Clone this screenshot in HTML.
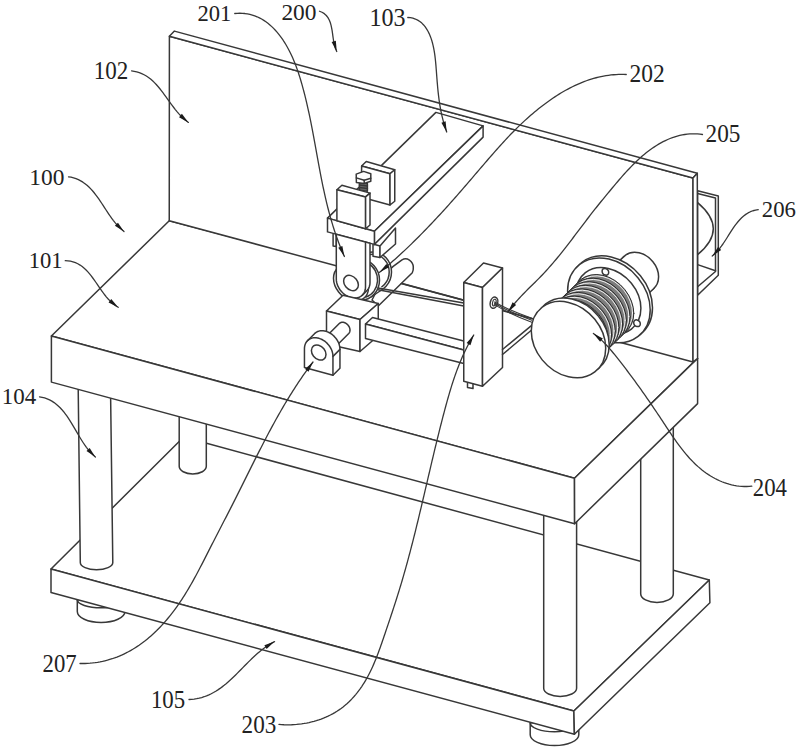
<!DOCTYPE html>
<html><head><meta charset="utf-8"><style>
html,body{margin:0;padding:0;background:#fff;width:800px;height:751px;overflow:hidden}
svg{display:block}
text{font-family:"Liberation Serif",serif;font-size:23.3px;fill:#222}
</style></head><body>
<svg width="800" height="751" viewBox="0 0 800 751">
<g stroke="#383838" stroke-width="1.5" stroke-linejoin="round" stroke-linecap="round">
<path d="M77.3,599.8 L77.3,611.5 A23.8,11 0 0 0 124.9,611.5 L124.9,599.8 Z" fill="#fff"/><path d="M77.3,599.8 A23.8,8 0 0 0 124.9,599.8" fill="none"/>
<path d="M530.2,722.8 L530.2,734.7 A24.3,10.8 0 0 0 578.8,734.7 L578.8,722.8 Z" fill="#fff"/><path d="M530.2,722.8 A24.3,9 0 0 0 578.8,722.8" fill="none"/>
<polygon points="51,569 183.7,437 709.3,580 573.9,711" fill="#fff" />
<polygon points="51,569 573.9,711 574.4,734.2 51,592.5" fill="#fff" />
<polygon points="573.9,711 709.3,580 709.9,602.75 574.4,734.2" fill="#fff" />
<path d="M179.2,405 L179.2,466.3 A13.55,7.7 0 0 0 206.3,466.3 L206.3,405 Z" fill="#fff"/>
<path d="M640.7,420 L640.7,593.75 A16.3,8.75 0 0 0 673.3,593.75 L673.3,420 Z" fill="#fff"/>
<path d="M78.1,380 L80.3,562.5 A16.25,7.3 0 0 0 112.8,562.5 L110.4,380 Z" fill="#fff"/>
<path d="M543.7,510 L543.7,688.3 A16.45,8.1 0 0 0 576.6,688.3 L576.6,510 Z" fill="#fff"/>
<polygon points="51.4,336 169.25,220.75 697.6,358.4 574.5,478.2" fill="#fff" />
<polygon points="51.4,336 574.5,478.2 574.6,523.7 51.4,382.1" fill="#fff" />
<polygon points="574.5,478.2 697.6,358.4 697.6,403.6 574.6,523.7" fill="#fff" />
<polygon points="697.6,190.8 718.3,196 718.3,275.3 697.6,295.3" fill="#fff" />
<polyline points="697.6,193.4 715.5,198 715.5,271.5 697.6,286.8" fill="none"/>
<line x1="697.6" y1="264.6" x2="715.5" y2="270.8"/>
<path d="M697.6,202.6 Q729,229 697.6,254.7" fill="none"/>
<polygon points="169.4,36.25 693,178 693,362 169.25,220.75" fill="#fff" />
<polygon points="169.4,36.25 174.4,31.1 697.3,173.3 693,178" fill="#fff" />
<polygon points="693,178 697.3,173.3 697.6,358.4 693,362" fill="#fff" />
<path d="M386,273 L393.2,266.4 L402,259.8 C407,257 413,261 413.3,267 C413.5,270 413,271.5 412.3,272.7 L378.25,306 L372,300 Z" fill="#fff"/>
<ellipse cx="373" cy="272" rx="18.5" ry="20" fill="#fff"/>
<ellipse cx="373" cy="272" rx="16.2" ry="17.7" fill="none"/>
<polygon points="351.36,262.75 363.36,254.75 382.64,289.25 370.64,297.25" fill="#fff" stroke="none"/>
<line x1="370.64" y1="297.25" x2="382.64" y2="289.25"/>
<ellipse cx="361" cy="280" rx="18.5" ry="20.3" fill="#fff"/>
<path d="M368,263.5 A15.8,17.8 0 0 1 366,297" fill="none"/>
<polygon points="373,244 380,246 380,257.5 373,256.3" fill="#fff" />
<polygon points="380,246 395.5,228 395.5,244 380,257.5" fill="#fff" />
<polygon points="333.1,231 336.3,231 336.3,246.5 333.1,246" fill="#fff" />
<polygon points="435.9,112.4 483.1,125.9 374.4,231.25 327.5,218.1" fill="#fff" />
<polygon points="483.1,125.9 483.1,137.1 374.4,244.4 374.4,231.25" fill="#fff" />
<polygon points="327.5,218.1 374.4,231.25 374.4,244.4 327.5,231.9" fill="#fff" />
<polygon points="361.6,166 366.25,161.5 394.75,169.75 390,173.75" fill="#fff" />
<polygon points="361.6,166 390,173.75 390,205 361.6,197.2" fill="#fff" />
<polygon points="390,173.75 394.75,169.75 394.75,201.25 390,205" fill="#fff" />
<polygon points="359.4,182.5 367.4,183.5 367.4,191.2 359.4,190.2" fill="#6a6a6a" />
<line x1="359.4" y1="185" x2="367.4" y2="186"/>
<line x1="359.4" y1="187.6" x2="367.4" y2="188.6"/>
<polygon points="356.2,174.1 363.6,171.4 370.8,173.7 370.8,181.3 364.2,183.4 356.4,182.4" fill="#fff" />
<polyline points="356.3,177.9 364.2,180.2 370.8,178.3" fill="none"/>
<line x1="364.2" y1="180.2" x2="364.2" y2="183.4"/>
<polygon points="336.9,189.75 341.9,185.25 370,193.1 365.6,196.9" fill="#fff" />
<polygon points="336.9,189.75 365.6,196.9 365.6,228.8 336.9,220.7" fill="#fff" />
<polygon points="365.6,196.9 370,193.1 370,225 365.6,228.8" fill="#fff" />
<circle cx="0" cy="0" r="17.5" transform="matrix(1,0.27,0,1,351,283)" fill="#fff" vector-effect="non-scaling-stroke" />
<path d="M336.3,234.3 L365.5,242 L370,243.2 L370,282.44 L370,282.44 L369.91,284.04 L369.64,285.56 L369.2,287 L368.58,288.34 L367.8,289.55 L366.87,290.63 L362.37,295.13 L361.17,296.15 L359.81,296.97 L358.32,297.58 L356.71,297.96 L355.01,298.12 L353.25,298.04 L351.45,297.74 L349.65,297.21 L347.86,296.46 L346.12,295.51 L344.46,294.36 L342.89,293.04 L341.44,291.57 L340.14,289.97 L339.01,288.26 L338.05,286.47 L337.29,284.62 L336.74,282.75 L336.41,280.89 L336.3,279.06 Z" fill="#fff" />
<path d="M365.5,242 L365.5,286.94 L365.41,288.54 L365.14,290.06 L364.7,291.5 L364.08,292.84 L363.3,294.05 L362.37,295.13" fill="none" />
<circle cx="0" cy="0" r="7.4" transform="matrix(1,0.27,0,1,351,283)" fill="#fff" vector-effect="non-scaling-stroke" />
<line x1="401.2" y1="283.5" x2="463.75" y2="300.2"/>
<line x1="378" y1="288" x2="463.75" y2="303"/>
<line x1="378" y1="289.8" x2="463.75" y2="306"/>
<polygon points="326.5,311 343,295.25 378.25,303.5 360,319.5" fill="#fff" />
<polygon points="326.5,311 360,319.5 360,351.5 326.5,344" fill="#fff" />
<polygon points="360,319.5 378.25,303.5 378.25,335.75 360,351.5" fill="#fff" />
<polygon points="365.5,324 372.5,317.5 463.75,341 463.75,350" fill="#fff" />
<polygon points="365.5,324 463.75,350 463.75,363.5 365.5,338.5" fill="#fff" />
<path d="M327.28,335.52 L339.28,323.52 L339.81,323.07 L340.41,322.73 L341.06,322.47 L341.77,322.33 L342.52,322.29 L343.29,322.35 L344.07,322.52 L344.86,322.79 L345.62,323.16 L346.36,323.62 L347.06,324.17 L347.71,324.79 L348.29,325.47 L348.8,326.2 L349.23,326.98 L349.57,327.78 L349.81,328.59 L349.96,329.4 L350,330.19 L349.94,330.96 L349.78,331.68 L349.51,332.35 L349.16,332.96 L348.72,333.48 L336.72,345.48 Z" fill="#fff" />
<path d="M304.45,367.5 L304.45,348.65 L304.45,348.65 L304.54,347.1 L304.8,345.61 L305.23,344.2 L305.83,342.9 L306.59,341.72 L307.5,340.66 L314.5,333.66 L315.47,332.82 L316.54,332.11 L317.72,331.54 L318.97,331.12 L320.3,330.85 L321.69,330.74 L323.12,330.79 L324.57,330.99 L326.04,331.35 L327.51,331.85 L328.95,332.5 L330.36,333.29 L331.72,334.21 L333.02,335.25 L334.24,336.4 L335.37,337.64 L336.4,338.97 L337.31,340.37 L338.1,341.82 L338.75,343.31 L339.27,344.83 L339.65,346.35 L339.87,347.86 L339.95,349.35 L339.95,349.35 L339.95,368.2 L332.95,375.2 Z" fill="#fff" />
<path d="M307.5,340.66 L308.47,339.82 L309.54,339.11 L310.72,338.54 L311.97,338.12 L313.3,337.85 L314.69,337.74 L316.12,337.79 L317.57,337.99 L319.04,338.35 L320.51,338.85 L321.95,339.5 L323.36,340.29 L324.72,341.21 L326.02,342.25 L327.24,343.4 L328.37,344.64 L329.4,345.97 L330.31,347.37 L331.1,348.82 L331.75,350.31 L332.27,351.83 L332.65,353.35 L332.87,354.86 L332.95,356.35 L332.95,375.2" fill="none" />
<line x1="332.95" y1="356.35" x2="339.95" y2="349.35"/>
<circle cx="0" cy="0" r="7.3" transform="matrix(1,0.27,0,1,318.7,352.5)" fill="#fff" vector-effect="non-scaling-stroke" />
<polygon points="463.75,282.5 483.5,263 502.5,268 482.5,287.5" fill="#fff" />
<polygon points="463.75,282.5 482.5,287.5 482.5,386.25 463.75,381.25" fill="#fff" />
<polygon points="482.5,287.5 502.5,268 502.5,367.5 482.5,386.25" fill="#fff" />
<ellipse cx="494" cy="302.7" rx="3.7" ry="5.7" transform="rotate(15 494 302.7)" fill="#fff"/>
<ellipse cx="494.3" cy="302.6" rx="1.7" ry="3.4" transform="rotate(15 494.3 302.6)" fill="none" stroke-width="1.1"/>
<polyline points="467.5,383 467.5,387.5 473,388.5 473,384" fill="none"/>
<path d="M494.5,302 Q508,310 531.8,318.2" fill="none" stroke-width="1.1"/>
<path d="M494.5,303.3 Q508.5,311.8 531.8,320.2" fill="none" stroke-width="1.1"/>
<path d="M494.5,304.6 Q509,313.6 531.8,322.2" fill="none" stroke-width="1.1"/>
<line x1="502.5" y1="349.5" x2="532" y2="325.2"/>
<line x1="502.5" y1="354.5" x2="532.5" y2="329.2"/>
<circle cx="0" cy="0" r="19.5" transform="matrix(1,0.23,0,1,639.1,272.3)" fill="#fff" vector-effect="non-scaling-stroke" />
<polygon points="596.19,282.31 624.09,256.41 654.12,288.19 626.22,314.09" fill="#fff" stroke="none"/>
<line x1="596.19" y1="282.31" x2="624.09" y2="256.41"/>
<line x1="626.22" y1="314.09" x2="654.12" y2="288.19"/>
<circle cx="0" cy="0" r="41.3" transform="matrix(1,0.23,0,1,611.2,298.2)" fill="#fff" vector-effect="non-scaling-stroke" />
<polygon points="577.1,266.74 579.4,264.54 643,331.86 640.7,334.06" fill="#fff" stroke="none"/>
<circle cx="0" cy="0" r="41.3" transform="matrix(1,0.23,0,1,608.9,300.4)" fill="#fff" vector-effect="non-scaling-stroke" />
<circle cx="0" cy="0" r="32.5" transform="matrix(1,0.23,0,1,608.4,300.9)" fill="none" vector-effect="non-scaling-stroke" />
<circle cx="0" cy="0" r="3.3" transform="matrix(1,0.23,0,1,605.4,271.8)" fill="#fff" vector-effect="non-scaling-stroke" />
<circle cx="0" cy="0" r="3.3" transform="matrix(1,0.23,0,1,637,323.2)" fill="#fff" vector-effect="non-scaling-stroke" />
<circle cx="0" cy="0" r="30.9" transform="matrix(1,0.23,0,1,602.92,306.23)" fill="#7c7c7c" vector-effect="non-scaling-stroke" stroke-width="1.0" stroke="#2a2a2a"/>
<circle cx="0" cy="0" r="29.6" transform="matrix(1,0.23,0,1,602.92,306.23)" fill="none" vector-effect="non-scaling-stroke" stroke-width="0.9" stroke="#fff"/>
<circle cx="0" cy="0" r="30.9" transform="matrix(1,0.23,0,1,599.22,309.82)" fill="#7c7c7c" vector-effect="non-scaling-stroke" stroke-width="1.0" stroke="#2a2a2a"/>
<circle cx="0" cy="0" r="29.6" transform="matrix(1,0.23,0,1,599.22,309.82)" fill="none" vector-effect="non-scaling-stroke" stroke-width="0.9" stroke="#fff"/>
<circle cx="0" cy="0" r="30.9" transform="matrix(1,0.23,0,1,595.52,313.4)" fill="#7c7c7c" vector-effect="non-scaling-stroke" stroke-width="1.0" stroke="#2a2a2a"/>
<circle cx="0" cy="0" r="29.6" transform="matrix(1,0.23,0,1,595.52,313.4)" fill="none" vector-effect="non-scaling-stroke" stroke-width="0.9" stroke="#fff"/>
<circle cx="0" cy="0" r="30.9" transform="matrix(1,0.23,0,1,591.83,316.98)" fill="#7c7c7c" vector-effect="non-scaling-stroke" stroke-width="1.0" stroke="#2a2a2a"/>
<circle cx="0" cy="0" r="29.6" transform="matrix(1,0.23,0,1,591.83,316.98)" fill="none" vector-effect="non-scaling-stroke" stroke-width="0.9" stroke="#fff"/>
<circle cx="0" cy="0" r="30.9" transform="matrix(1,0.23,0,1,588.13,320.57)" fill="#7c7c7c" vector-effect="non-scaling-stroke" stroke-width="1.0" stroke="#2a2a2a"/>
<circle cx="0" cy="0" r="29.6" transform="matrix(1,0.23,0,1,588.13,320.57)" fill="none" vector-effect="non-scaling-stroke" stroke-width="0.9" stroke="#fff"/>
<circle cx="0" cy="0" r="30.9" transform="matrix(1,0.23,0,1,584.43,324.15)" fill="#7c7c7c" vector-effect="non-scaling-stroke" stroke-width="1.0" stroke="#2a2a2a"/>
<circle cx="0" cy="0" r="29.6" transform="matrix(1,0.23,0,1,584.43,324.15)" fill="none" vector-effect="non-scaling-stroke" stroke-width="0.9" stroke="#fff"/>
<circle cx="0" cy="0" r="30.9" transform="matrix(1,0.23,0,1,580.74,327.74)" fill="#7c7c7c" vector-effect="non-scaling-stroke" stroke-width="1.0" stroke="#2a2a2a"/>
<circle cx="0" cy="0" r="29.6" transform="matrix(1,0.23,0,1,580.74,327.74)" fill="none" vector-effect="non-scaling-stroke" stroke-width="0.9" stroke="#fff"/>
<circle cx="0" cy="0" r="30.9" transform="matrix(1,0.23,0,1,577.04,331.32)" fill="#7c7c7c" vector-effect="non-scaling-stroke" stroke-width="1.0" stroke="#2a2a2a"/>
<circle cx="0" cy="0" r="29.6" transform="matrix(1,0.23,0,1,577.04,331.32)" fill="none" vector-effect="non-scaling-stroke" stroke-width="0.9" stroke="#fff"/>
<circle cx="0" cy="0" r="37.2" transform="matrix(1,0.23,0,1,572,336.2)" fill="#fff" vector-effect="non-scaling-stroke" />
<polygon points="539.86,309.28 543.36,305.88 600.64,366.52 597.14,369.92" fill="#fff" stroke="none"/>
<circle cx="0" cy="0" r="37.2" transform="matrix(1,0.23,0,1,568.5,339.6)" fill="#fff" vector-effect="non-scaling-stroke" />
<path d="M234.75,13.50 L237.28,13.30 L239.81,13.24 L242.35,13.31 L244.88,13.52 L247.39,13.88 L249.88,14.39 L252.33,15.04 L254.74,15.84 L257.09,16.78 L259.40,17.85 L261.63,19.04 L263.80,20.36 L265.90,21.78 L267.93,23.30 L269.89,24.92 L271.78,26.61 L273.59,28.39 L275.34,30.23 L277.02,32.13 L278.64,34.08 L280.19,36.09 L281.69,38.14 L283.13,40.23 L284.51,42.36 L285.84,44.52 L287.11,46.71 L288.33,48.94 L289.51,51.18 L290.64,53.46 L291.72,55.75 L292.76,58.07 L293.76,60.40 L294.72,62.75 L295.64,65.11 L296.53,67.49 L297.38,69.88 L298.21,72.28 L299.01,74.69 L299.78,77.11 L300.52,79.53 L301.24,81.96 L301.94,84.40 L302.62,86.85 L303.29,89.30 L303.93,91.75 L304.57,94.21 L305.18,96.67 L305.79,99.13 L306.38,101.60 L306.96,104.07 L307.52,106.55 L308.08,109.02 L308.62,111.50 L309.15,113.98 L309.68,116.46 L310.19,118.95 L310.70,121.44 L311.19,123.92 L311.68,126.41 L312.17,128.91 L312.64,131.40 L313.11,133.89 L313.58,136.39 L314.04,138.88 L314.50,141.38 L314.96,143.87 L315.41,146.37 L315.87,148.87 L316.32,151.36 L316.77,153.86 L317.22,156.36 L317.68,158.85 L318.13,161.35 L318.59,163.84 L319.05,166.34 L319.52,168.83 L319.99,171.33 L320.46,173.82 L320.94,176.31 L321.43,178.80 L321.93,181.29 L322.43,183.78 L322.94,186.26 L323.47,188.75 L324.00,191.23 L324.54,193.71 L325.09,196.18 L325.66,198.66 L326.24,201.13 L326.83,203.59 L327.44,206.06 L328.06,208.52 L328.70,210.97 L329.35,213.43 L330.02,215.87 L330.70,218.32 L331.41,220.76 L332.13,223.19 L332.87,225.62 L333.63,228.04 L334.41,230.45 L335.21,232.86 L336.03,235.26 L336.87,237.66 L337.73,240.04 L338.61,242.42 L339.52,244.79 L340.45,247.15 L341.40,249.50 L342.38,251.85 L343.38,254.18 L344.40,256.50" fill="none" stroke-width="1.3"/>
<polygon points="344.4,256.5 338.29,247.68 342.34,245.97" fill="#1a1a1a" stroke="none"/>
<path d="M319.50,11.25 L322.01,12.26 L324.32,13.67 L326.32,15.49 L327.97,17.64 L329.26,20.01 L330.26,22.53 L331.02,25.13 L331.61,27.77 L332.09,30.44 L332.49,33.12 L332.85,35.80 L333.23,38.49 L333.65,41.16 L334.16,43.82 L334.80,46.45 L335.64,49.03 L336.75,51.50" fill="none" stroke-width="1.3"/>
<polygon points="336.75,51.5 331.63,42.08 335.84,40.81" fill="#1a1a1a" stroke="none"/>
<path d="M407.80,17.50 L410.36,17.72 L412.89,18.21 L415.33,19.01 L417.66,20.10 L419.84,21.48 L421.83,23.11 L423.63,24.94 L425.25,26.94 L426.70,29.07 L427.99,31.29 L429.15,33.59 L430.17,35.96 L431.08,38.37 L431.87,40.81 L432.57,43.29 L433.18,45.79 L433.71,48.31 L434.17,50.84 L434.58,53.38 L434.93,55.93 L435.24,58.49 L435.51,61.05 L435.76,63.61 L435.98,66.18 L436.18,68.74 L436.38,71.31 L436.57,73.88 L436.77,76.44 L436.97,79.01 L437.17,81.58 L437.39,84.14 L437.61,86.70 L437.85,89.27 L438.11,91.83 L438.39,94.39 L438.70,96.94 L439.03,99.50 L439.38,102.05 L439.77,104.59 L440.20,107.13 L440.65,109.66 L441.15,112.19 L441.69,114.70 L442.27,117.21 L442.90,119.71 L443.56,122.20 L444.28,124.67 L445.04,127.13 L445.85,129.57 L446.70,132.00" fill="none" stroke-width="1.3"/>
<polygon points="446.7,132 441.41,122.67 445.6,121.33" fill="#1a1a1a" stroke="none"/>
<path d="M131.60,70.90 L134.20,71.27 L136.76,71.83 L139.27,72.60 L141.71,73.56 L144.07,74.71 L146.34,76.03 L148.51,77.50 L150.58,79.11 L152.56,80.83 L154.45,82.65 L156.27,84.54 L158.01,86.50 L159.69,88.52 L161.32,90.57 L162.91,92.66 L164.47,94.77 L166.01,96.90 L167.54,99.03 L169.07,101.16 L170.60,103.29 L172.15,105.41 L173.73,107.51 L175.34,109.58 L177.00,111.61 L178.71,113.60 L180.49,115.53 L182.34,117.39 L184.27,119.17 L186.29,120.84 L188.40,122.40" fill="none" stroke-width="1.3"/>
<polygon points="188.4,122.4 179.03,117.18 181.91,113.86" fill="#1a1a1a" stroke="none"/>
<path d="M626.25,74.50 L623.72,74.41 L621.18,74.39 L618.64,74.44 L616.11,74.55 L613.58,74.73 L611.05,74.97 L608.53,75.28 L606.03,75.65 L603.53,76.09 L601.04,76.58 L598.56,77.13 L596.10,77.75 L593.65,78.42 L591.22,79.14 L588.81,79.92 L586.41,80.75 L584.03,81.63 L581.67,82.56 L579.33,83.53 L577.01,84.55 L574.70,85.62 L572.42,86.72 L570.16,87.87 L567.91,89.05 L565.69,90.27 L563.48,91.52 L561.30,92.81 L559.13,94.13 L556.99,95.48 L554.86,96.87 L552.75,98.27 L550.66,99.71 L548.59,101.17 L546.53,102.66 L544.49,104.17 L542.47,105.71 L540.47,107.26 L538.48,108.84 L536.51,110.43 L534.55,112.05 L532.61,113.68 L530.69,115.33 L528.78,117.00 L526.88,118.69 L525.00,120.39 L523.14,122.11 L521.29,123.85 L519.45,125.60 L517.63,127.37 L515.83,129.15 L514.03,130.94 L512.26,132.75 L510.49,134.57 L508.74,136.41 L507.00,138.25 L505.26,140.10 L503.54,141.97 L501.83,143.84 L500.13,145.72 L498.44,147.61 L496.75,149.50 L495.07,151.40 L493.39,153.31 L491.72,155.22 L490.06,157.13 L488.40,159.05 L486.74,160.97 L485.08,162.89 L483.43,164.81 L481.77,166.74 L480.12,168.66 L478.47,170.59 L476.83,172.52 L475.18,174.45 L473.53,176.37 L471.88,178.30 L470.23,180.23 L468.58,182.15 L466.93,184.08 L465.27,186.00 L463.61,187.92 L461.96,189.84 L460.29,191.76 L458.63,193.67 L456.96,195.58 L455.28,197.49 L453.61,199.39 L451.92,201.29 L450.24,203.18 L448.54,205.07 L446.84,206.96 L445.14,208.84 L443.43,210.71 L441.72,212.58 L440.00,214.45 L438.28,216.31 L436.55,218.16 L434.81,220.02 L433.07,221.86 L431.33,223.70 L429.58,225.54 L427.82,227.37 L426.06,229.20 L424.30,231.02 L422.53,232.83 L420.75,234.64 L418.96,236.45 L417.17,238.24 L415.37,240.03 L413.57,241.81 L411.75,243.59 L409.93,245.35 L408.11,247.11 L406.27,248.86 L404.43,250.60 L402.57,252.34 L400.71,254.06 L398.84,255.77 L396.96,257.48 L395.07,259.17 L393.17,260.85 L391.26,262.52 L389.35,264.18 L387.42,265.83 L385.48,267.47 L383.53,269.09 L381.57,270.70 L379.60,272.30" fill="none" stroke-width="1.3"/>
<polygon points="379.6,272.3 386.29,263.91 389.09,267.3" fill="#1a1a1a" stroke="none"/>
<path d="M702.50,134.50 L699.98,134.18 L697.44,133.97 L694.90,133.86 L692.36,133.86 L689.82,133.97 L687.28,134.18 L684.76,134.50 L682.25,134.93 L679.76,135.45 L677.30,136.08 L674.86,136.80 L672.45,137.61 L670.07,138.51 L667.72,139.49 L665.41,140.55 L663.13,141.68 L660.89,142.88 L658.68,144.14 L656.51,145.47 L654.37,146.85 L652.27,148.28 L650.20,149.76 L648.17,151.29 L646.17,152.86 L644.19,154.46 L642.25,156.11 L640.34,157.79 L638.46,159.49 L636.60,161.23 L634.77,163.00 L632.96,164.79 L631.18,166.60 L629.41,168.43 L627.67,170.28 L625.94,172.15 L624.24,174.04 L622.55,175.94 L620.87,177.85 L619.20,179.77 L617.55,181.71 L615.90,183.65 L614.27,185.59 L612.63,187.54 L611.01,189.50 L609.38,191.46 L607.76,193.41 L606.13,195.37 L604.51,197.33 L602.90,199.30 L601.29,201.27 L599.69,203.25 L598.10,205.23 L596.51,207.22 L594.93,209.21 L593.36,211.21 L591.79,213.22 L590.24,215.22 L588.68,217.24 L587.13,219.26 L585.59,221.28 L584.05,223.31 L582.52,225.33 L580.98,227.36 L579.45,229.39 L577.92,231.42 L576.38,233.45 L574.85,235.48 L573.31,237.51 L571.77,239.53 L570.22,241.55 L568.67,243.57 L567.12,245.58 L565.55,247.59 L563.98,249.59 L562.40,251.58 L560.81,253.57 L559.22,255.54 L557.60,257.51 L555.98,259.47 L554.35,261.42 L552.70,263.36 L551.04,265.28 L549.36,267.19 L547.66,269.09 L545.95,270.97 L544.22,272.84 L542.48,274.69 L540.71,276.52 L538.93,278.34 L537.14,280.14 L535.34,281.94 L533.53,283.72 L531.72,285.51 L529.90,287.29 L528.10,289.08 L526.30,290.88 L524.51,292.69 L522.73,294.51 L520.97,296.35 L519.23,298.20 L517.52,300.09 L515.84,301.99 L514.19,303.93 L512.58,305.90 L511.00,307.90 L509.48,309.93 L508.00,312.00" fill="none" stroke-width="1.3"/>
<polygon points="508,312 512.64,302.33 516.13,305.01" fill="#1a1a1a" stroke="none"/>
<path d="M758.20,209.60 L755.55,210.05 L752.96,210.75 L750.45,211.72 L748.05,212.93 L745.78,214.37 L743.64,215.99 L741.63,217.78 L739.74,219.70 L737.97,221.72 L736.29,223.82 L734.70,225.98 L733.16,228.19 L731.67,230.43 L730.22,232.69 L728.78,234.97 L727.35,237.24 L725.91,239.51 L724.44,241.77 L722.94,244.00 L721.38,246.19 L719.75,248.33 L718.04,250.40 L716.23,252.39 L714.30,254.26 L712.25,256.00" fill="none" stroke-width="1.3"/>
<polygon points="712.25,256 718.02,246.95 721.16,250.03" fill="#1a1a1a" stroke="none"/>
<path d="M68.50,176.80 L71.05,177.23 L73.56,177.84 L76.01,178.65 L78.39,179.65 L80.69,180.83 L82.90,182.17 L85.01,183.67 L87.02,185.29 L88.93,187.03 L90.75,188.87 L92.48,190.78 L94.14,192.76 L95.74,194.79 L97.28,196.87 L98.78,198.97 L100.24,201.11 L101.67,203.26 L103.09,205.42 L104.50,207.59 L105.91,209.75 L107.32,211.91 L108.76,214.06 L110.22,216.19 L111.73,218.29 L113.27,220.37 L114.87,222.39 L116.54,224.37 L118.27,226.28 L120.09,228.12 L122.00,229.86 L124.00,231.50" fill="none" stroke-width="1.3"/>
<polygon points="124,231.5 114.89,225.84 117.93,222.66" fill="#1a1a1a" stroke="none"/>
<path d="M65.25,260.70 L67.85,260.83 L70.43,261.20 L72.97,261.81 L75.43,262.67 L77.80,263.76 L80.05,265.07 L82.19,266.57 L84.20,268.23 L86.10,270.01 L87.89,271.91 L89.60,273.88 L91.23,275.91 L92.80,277.99 L94.33,280.11 L95.82,282.25 L97.30,284.40 L98.77,286.55 L100.24,288.70 L101.74,290.84 L103.27,292.95 L104.85,295.03 L106.48,297.06 L108.19,299.03 L109.99,300.92 L111.88,302.72 L113.87,304.40 L115.98,305.93 L118.20,307.30" fill="none" stroke-width="1.3"/>
<polygon points="118.2,307.3 108.56,302.6 111.25,299.12" fill="#1a1a1a" stroke="none"/>
<path d="M39.50,396.80 L42.10,397.28 L44.65,397.96 L47.15,398.84 L49.57,399.91 L51.89,401.17 L54.12,402.60 L56.23,404.19 L58.24,405.91 L60.14,407.75 L61.94,409.69 L63.65,411.71 L65.27,413.79 L66.83,415.93 L68.32,418.12 L69.76,420.34 L71.16,422.58 L72.52,424.85 L73.86,427.13 L75.19,429.41 L76.52,431.70 L77.85,433.99 L79.19,436.27 L80.55,438.53 L81.95,440.78 L83.39,443.00 L84.87,445.19 L86.42,447.33 L88.04,449.42 L89.74,451.45 L91.53,453.40 L93.41,455.25 L95.40,457.00" fill="none" stroke-width="1.3"/>
<polygon points="95.4,457 86.51,451 89.66,447.94" fill="#1a1a1a" stroke="none"/>
<path d="M751.80,486.20 L749.26,486.39 L746.72,486.49 L744.18,486.48 L741.64,486.36 L739.11,486.14 L736.58,485.81 L734.08,485.38 L731.59,484.85 L729.13,484.22 L726.69,483.49 L724.28,482.67 L721.91,481.76 L719.57,480.76 L717.27,479.68 L715.00,478.52 L712.78,477.29 L710.59,475.98 L708.45,474.61 L706.35,473.18 L704.29,471.69 L702.28,470.14 L700.30,468.53 L698.37,466.88 L696.48,465.18 L694.63,463.43 L692.82,461.64 L691.05,459.82 L689.32,457.95 L687.63,456.05 L685.97,454.13 L684.34,452.17 L682.75,450.19 L681.18,448.19 L679.64,446.16 L678.13,444.12 L676.63,442.06 L675.16,439.99 L673.70,437.90 L672.26,435.80 L670.84,433.70 L669.42,431.59 L668.01,429.47 L666.61,427.35 L665.21,425.22 L663.82,423.09 L662.42,420.97 L661.02,418.85 L659.61,416.73 L658.20,414.61 L656.79,412.50 L655.37,410.38 L653.95,408.28 L652.52,406.17 L651.09,404.07 L649.65,401.97 L648.21,399.88 L646.76,397.78 L645.31,395.70 L643.85,393.61 L642.38,391.53 L640.91,389.46 L639.44,387.39 L637.95,385.32 L636.47,383.26 L634.97,381.20 L633.47,379.15 L631.96,377.10 L630.44,375.06 L628.92,373.02 L627.39,370.99 L625.86,368.96 L624.31,366.94 L622.76,364.93 L621.20,362.92 L619.64,360.91 L618.06,358.92 L616.48,356.92 L614.89,354.94 L613.28,352.97 L611.66,351.01 L610.01,349.08 L608.33,347.16 L606.62,345.28 L604.87,343.44 L603.08,341.63 L601.24,339.87 L599.36,338.16 L597.43,336.51 L595.44,334.92 L593.40,333.40" fill="none" stroke-width="1.3"/>
<polygon points="593.4,333.4 602.9,338.38 600.1,341.78" fill="#1a1a1a" stroke="none"/>
<path d="M80.00,663.50 L82.51,663.52 L85.03,663.48 L87.54,663.38 L90.05,663.21 L92.56,662.97 L95.06,662.67 L97.55,662.30 L100.02,661.87 L102.49,661.38 L104.94,660.81 L107.38,660.19 L109.80,659.49 L112.20,658.74 L114.58,657.92 L116.93,657.04 L119.27,656.10 L121.58,655.11 L123.86,654.05 L126.12,652.94 L128.35,651.78 L130.55,650.56 L132.73,649.30 L134.87,647.98 L136.98,646.62 L139.07,645.21 L141.12,643.76 L143.15,642.26 L145.14,640.73 L147.10,639.15 L149.04,637.54 L150.94,635.90 L152.81,634.22 L154.65,632.50 L156.47,630.76 L158.25,628.98 L160.00,627.18 L161.73,625.35 L163.43,623.49 L165.10,621.61 L166.74,619.71 L168.36,617.78 L169.94,615.83 L171.51,613.85 L173.04,611.86 L174.56,609.85 L176.04,607.82 L177.50,605.77 L178.94,603.71 L180.36,601.63 L181.75,599.53 L183.12,597.42 L184.47,595.30 L185.80,593.17 L187.11,591.02 L188.40,588.86 L189.68,586.69 L190.93,584.51 L192.18,582.32 L193.41,580.13 L194.62,577.93 L195.83,575.72 L197.02,573.50 L198.20,571.28 L199.37,569.05 L200.54,566.82 L201.69,564.59 L202.85,562.35 L203.99,560.11 L205.13,557.87 L206.27,555.63 L207.41,553.39 L208.55,551.14 L209.68,548.90 L210.82,546.65 L211.96,544.41 L213.10,542.17 L214.25,539.93 L215.40,537.69 L216.55,535.45 L217.71,533.22 L218.86,530.98 L220.02,528.75 L221.18,526.52 L222.33,524.28 L223.49,522.05 L224.65,519.82 L225.81,517.58 L226.96,515.35 L228.11,513.11 L229.26,510.87 L230.41,508.63 L231.55,506.39 L232.69,504.15 L233.83,501.91 L234.97,499.66 L236.10,497.41 L237.23,495.16 L238.35,492.91 L239.48,490.66 L240.60,488.41 L241.72,486.16 L242.84,483.91 L243.96,481.65 L245.08,479.40 L246.20,477.15 L247.32,474.89 L248.44,472.64 L249.56,470.39 L250.68,468.14 L251.80,465.89 L252.93,463.64 L254.05,461.39 L255.18,459.14 L256.31,456.89 L257.45,454.64 L258.59,452.40 L259.73,450.16 L260.87,447.92 L262.02,445.68 L263.17,443.44 L264.33,441.21 L265.49,438.98 L266.66,436.75 L267.84,434.53 L269.01,432.30 L270.20,430.08 L271.39,427.87 L272.59,425.66 L273.80,423.45 L275.01,421.24 L276.23,419.04 L277.46,416.85 L278.69,414.66 L279.94,412.47 L281.19,410.29 L282.45,408.11 L283.72,405.94 L285.00,403.77 L286.29,401.61 L287.59,399.46 L288.91,397.31 L290.23,395.17 L291.56,393.04 L292.90,390.91 L294.26,388.79 L295.62,386.68 L297.00,384.57 L298.39,382.48 L299.79,380.39 L301.21,378.31 L302.63,376.24 L304.07,374.17 L305.53,372.12 L306.99,370.07 L308.48,368.04 L309.97,366.02 L311.48,364.00 L313.00,362.00" fill="none" stroke-width="1.3"/>
<polygon points="313,362 308.5,371.74 304.97,369.11" fill="#1a1a1a" stroke="none"/>
<path d="M189.00,699.50 L191.57,699.35 L194.13,699.08 L196.67,698.68 L199.19,698.16 L201.68,697.51 L204.14,696.74 L206.55,695.85 L208.92,694.85 L211.25,693.74 L213.52,692.53 L215.74,691.24 L217.91,689.85 L220.04,688.40 L222.11,686.88 L224.14,685.30 L226.14,683.67 L228.09,681.99 L230.01,680.28 L231.90,678.53 L233.76,676.76 L235.61,674.96 L237.43,673.15 L239.25,671.32 L241.05,669.48 L242.85,667.65 L244.65,665.81 L246.46,663.97 L248.28,662.15 L250.10,660.34 L251.95,658.54 L253.82,656.77 L255.71,655.03 L257.63,653.32 L259.59,651.65 L261.59,650.02 L263.62,648.44 L265.70,646.93 L267.83,645.48 L270.00,644.10 L272.23,642.81 L274.50,641.60" fill="none" stroke-width="1.3"/>
<polygon points="274.5,641.6 266.66,648.92 264.38,645.16" fill="#1a1a1a" stroke="none"/>
<path d="M279.00,724.40 L281.51,724.60 L284.03,724.73 L286.54,724.79 L289.06,724.80 L291.58,724.74 L294.10,724.61 L296.61,724.43 L299.11,724.17 L301.61,723.86 L304.10,723.48 L306.58,723.04 L309.05,722.53 L311.50,721.96 L313.94,721.32 L316.36,720.62 L318.76,719.85 L321.14,719.02 L323.49,718.12 L325.81,717.15 L328.11,716.11 L330.37,715.01 L332.60,713.83 L334.79,712.58 L336.94,711.27 L339.04,709.88 L341.09,708.42 L343.10,706.90 L345.05,705.31 L346.95,703.66 L348.80,701.94 L350.60,700.18 L352.34,698.36 L354.03,696.50 L355.67,694.58 L357.26,692.63 L358.79,690.63 L360.28,688.60 L361.72,686.53 L363.10,684.43 L364.44,682.29 L365.74,680.13 L366.98,677.94 L368.19,675.73 L369.35,673.50 L370.47,671.24 L371.56,668.97 L372.61,666.68 L373.62,664.37 L374.61,662.06 L375.57,659.73 L376.51,657.39 L377.42,655.04 L378.31,652.68 L379.18,650.32 L380.04,647.95 L380.88,645.58 L381.71,643.20 L382.53,640.82 L383.35,638.44 L384.16,636.05 L384.97,633.67 L385.78,631.28 L386.59,628.90 L387.40,626.51 L388.20,624.12 L389.01,621.74 L389.81,619.35 L390.61,616.96 L391.40,614.57 L392.19,612.18 L392.98,609.78 L393.76,607.39 L394.54,604.99 L395.31,602.60 L396.08,600.20 L396.85,597.80 L397.60,595.40 L398.35,592.99 L399.10,590.58 L399.84,588.18 L400.57,585.77 L401.29,583.35 L402.01,580.94 L402.71,578.52 L403.42,576.10 L404.11,573.68 L404.80,571.26 L405.49,568.83 L406.16,566.41 L406.83,563.98 L407.50,561.55 L408.16,559.12 L408.81,556.69 L409.46,554.25 L410.11,551.82 L410.75,549.38 L411.38,546.94 L412.01,544.51 L412.64,542.07 L413.26,539.62 L413.88,537.18 L414.49,534.74 L415.10,532.30 L415.71,529.85 L416.31,527.40 L416.91,524.96 L417.51,522.51 L418.10,520.06 L418.69,517.61 L419.28,515.17 L419.87,512.72 L420.45,510.27 L421.04,507.82 L421.62,505.36 L422.20,502.91 L422.78,500.46 L423.35,498.01 L423.93,495.56 L424.50,493.11 L425.08,490.65 L425.65,488.20 L426.22,485.75 L426.80,483.29 L427.37,480.84 L427.94,478.39 L428.52,475.94 L429.09,473.48 L429.67,471.03 L430.24,468.58 L430.82,466.13 L431.40,463.67 L431.98,461.22 L432.56,458.77 L433.14,456.32 L433.72,453.87 L434.31,451.42 L434.90,448.97 L435.49,446.52 L436.08,444.08 L436.68,441.63 L437.28,439.18 L437.88,436.74 L438.48,434.29 L439.09,431.85 L439.71,429.40 L440.32,426.96 L440.94,424.52 L441.57,422.08 L442.19,419.64 L442.83,417.20 L443.46,414.76 L444.11,412.33 L444.75,409.89 L445.40,407.46 L446.06,405.03 L446.73,402.60 L447.41,400.17 L448.09,397.75 L448.79,395.33 L449.49,392.91 L450.21,390.50 L450.94,388.09 L451.69,385.68 L452.46,383.28 L453.23,380.89 L454.03,378.50 L454.85,376.11 L455.68,373.74 L456.54,371.37 L457.42,369.01 L458.32,366.65 L459.24,364.31 L460.19,361.98 L461.16,359.65 L462.16,357.34 L463.18,355.04 L464.24,352.75 L465.32,350.48 L466.43,348.22 L467.57,345.97 L468.74,343.74 L469.95,341.53 L471.18,339.33 L472.45,337.16 L473.75,335.00" fill="none" stroke-width="1.3"/>
<polygon points="473.75,335 470.44,345.2 466.62,343.02" fill="#1a1a1a" stroke="none"/>
</g>
<g>
<text transform="matrix(0.9692,0,0,1.0032,197.43,20.8)">201</text>
<text transform="matrix(1.0045,0,0,0.9809,281.4,20.45)">200</text>
<text transform="matrix(1.0344,0,0,1.0382,369.53,26.39)">103</text>
<text transform="matrix(0.9874,0,0,1.0382,93.83,79.39)">102</text>
<text transform="matrix(1.0092,0,0,1.0382,629.59,81.99)">202</text>
<text transform="matrix(0.997,0,0,1.0382,705.6,141.99)">205</text>
<text transform="matrix(1.0047,0,0,1.0223,29.24,184.55)">100</text>
<text transform="matrix(0.976,0,0,1.0287,761.82,217.19)">206</text>
<text transform="matrix(0.9714,0,0,1.0318,28.66,268.39)">101</text>
<text transform="matrix(0.9862,0,0,1.0318,1.78,404.39)">104</text>
<text transform="matrix(0.9777,0,0,1.0382,752.77,495.69)">204</text>
<text transform="matrix(0.976,0,0,1.0382,42.52,671.69)">207</text>
<text transform="matrix(0.9797,0,0,1.0382,150.94,707.69)">105</text>
<text transform="matrix(0.9939,0,0,1.0382,241.61,732.69)">203</text>
</g>
</svg></body></html>
